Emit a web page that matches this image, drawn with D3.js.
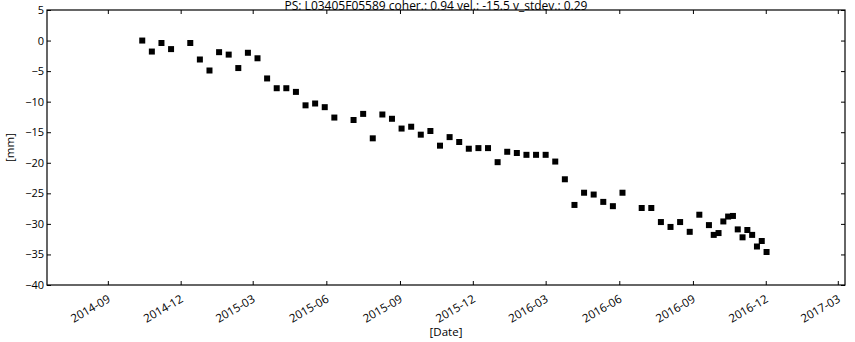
<!DOCTYPE html>
<html>
<head>
<meta charset="utf-8">
<script src="https://cdn.jsdelivr.net/npm/d3@7"></script>
<style>
  html, body { margin: 0; padding: 0; background: #fff; }
  svg { display: block; }
  text { font-family: "Open Sans", "DejaVu Sans", sans-serif; fill: #000; }
</style>
</head>
<body>
<svg id="chart" width="855" height="342"></svg>
<script>
// Acquisition dates of the persistent scatterer time series
const dates = [
  "2014-10-14","2014-10-26","2014-11-07","2014-11-19","2014-12-13","2014-12-25",
  "2015-01-06","2015-01-18","2015-01-30","2015-02-11","2015-02-23","2015-03-07",
  "2015-03-19","2015-03-31","2015-04-12","2015-04-24","2015-05-06","2015-05-18",
  "2015-05-30","2015-06-11","2015-07-05","2015-07-17","2015-07-29","2015-08-10",
  "2015-08-22","2015-09-03","2015-09-15","2015-09-27","2015-10-09","2015-10-21",
  "2015-11-02","2015-11-14","2015-11-26","2015-12-08","2015-12-20","2016-01-01",
  "2016-01-13","2016-01-25","2016-02-06","2016-02-18","2016-03-01","2016-03-13",
  "2016-03-25","2016-04-06","2016-04-18","2016-04-30","2016-05-12","2016-05-24",
  "2016-06-05","2016-06-29","2016-07-11","2016-07-23","2016-08-04","2016-08-16",
  "2016-08-28","2016-09-09","2016-09-21","2016-09-27","2016-10-03","2016-10-09",
  "2016-10-15","2016-10-21","2016-10-27","2016-11-02","2016-11-08","2016-11-14",
  "2016-11-20","2016-11-26","2016-12-02"
];

// Line-of-sight displacement [mm] at each date
const displacement = [
  0.0, -1.8, -0.4, -1.4, -0.4, -3.1,
  -4.9, -1.9, -2.3, -4.5, -2.0, -2.9,
  -6.2, -7.8, -7.8, -8.4, -10.6, -10.3,
  -10.9, -12.6, -13.0, -12.0, -16.0, -12.1,
  -12.8, -14.4, -14.1, -15.4, -14.8, -17.2,
  -15.8, -16.6, -17.7, -17.6, -17.6, -19.9,
  -18.2, -18.4, -18.7, -18.7, -18.7, -19.8,
  -22.7, -26.9, -24.9, -25.2, -26.4, -27.1,
  -24.9, -27.4, -27.4, -29.7, -30.5, -29.7,
  -31.3, -28.5, -30.2, -31.8, -31.5, -29.6,
  -28.8, -28.7, -30.9, -32.2, -31.0, -31.8,
  -33.7, -32.8, -34.6
];

// Axis ticks
const xTickDates = ["2014-09-01","2014-12-01","2015-03-01","2015-06-01","2015-09-01",
                    "2015-12-01","2016-03-01","2016-06-01","2016-09-01","2016-12-01","2017-03-01"];
const yTicks = [5, 0, -5, -10, -15, -20, -25, -30, -35, -40];
const xDomain = ["2014-06-17", "2017-03-10"];
const yDomain = [-40, 5];

const titleText = "PS: L03405F05589 coher.: 0.94 vel.: -15.5 v_stdev.: 0.29";
const xLabel = "[Date]";
const yLabel = "[mm]";

const parse = d3.utcParse("%Y-%m-%d");
const fmt = d3.utcFormat("%Y-%m");
const minus = v => String(v).replace("-", "\u2212");

const svg = d3.select("#chart");
const plot = { left: 47, right: 845, top: 10, bottom: 285 };

const x = d3.scaleUtc().domain(xDomain.map(parse)).range([plot.left, plot.right]);
const y = d3.scaleLinear().domain(yDomain).range([plot.bottom, plot.top]);

const points = dates.map((d, i) => ({ date: parse(d), value: displacement[i] }));

// Markers
const ms = 6;
svg.append("g")
  .selectAll("rect")
  .data(points)
  .join("rect")
  .attr("x", d => x(d.date) - ms / 2)
  .attr("y", d => y(d.value) - ms / 2)
  .attr("width", ms)
  .attr("height", ms)
  .attr("fill", "#000");

const tickLen = 4;
const xt = xTickDates.map(parse);

// Bottom axis (inward ticks, rotated labels)
const gx = svg.append("g").attr("transform", `translate(0,${plot.bottom})`)
  .call(d3.axisBottom(x).tickValues(xt).tickSizeInner(-tickLen).tickSizeOuter(0).tickFormat(fmt));
gx.select(".domain").remove();
gx.selectAll(".tick line").attr("stroke", "#000");
gx.selectAll(".tick text")
  .attr("font-size", 11.5)
  .attr("text-anchor", "end")
  .attr("dy", null)
  .attr("y", 0)
  .attr("transform", "translate(-2,8) rotate(-30)")
  .attr("dominant-baseline", "hanging");

// Top axis ticks
const gxt = svg.append("g").attr("transform", `translate(0,${plot.top})`)
  .call(d3.axisTop(x).tickValues(xt).tickSizeInner(-tickLen).tickSizeOuter(0).tickFormat(""));
gxt.select(".domain").remove();
gxt.selectAll(".tick line").attr("stroke", "#000");

// Left axis
const gy = svg.append("g").attr("transform", `translate(${plot.left},0)`)
  .call(d3.axisLeft(y).tickValues(yTicks).tickSizeInner(-tickLen).tickSizeOuter(0).tickPadding(3).tickFormat(minus));
gy.select(".domain").remove();
gy.selectAll(".tick line").attr("stroke", "#000");
gy.selectAll(".tick text").attr("font-size", 11).attr("x", -3);

// Right axis ticks
const gyr = svg.append("g").attr("transform", `translate(${plot.right},0)`)
  .call(d3.axisRight(y).tickValues(yTicks).tickSizeInner(-tickLen).tickSizeOuter(0).tickFormat(""));
gyr.select(".domain").remove();
gyr.selectAll(".tick line").attr("stroke", "#000");

// Frame
svg.append("rect")
  .attr("x", plot.left).attr("y", plot.top)
  .attr("width", plot.right - plot.left).attr("height", plot.bottom - plot.top)
  .attr("fill", "none").attr("stroke", "#000").attr("stroke-width", 1.2);

// Title and axis labels
svg.append("text")
  .attr("x", 436).attr("y", 9.5)
  .attr("text-anchor", "middle").attr("font-size", 12)
  .text(titleText);

svg.append("text")
  .attr("x", (plot.left + plot.right) / 2).attr("y", 336)
  .attr("text-anchor", "middle").attr("font-size", 11.5)
  .text(xLabel);

svg.append("text")
  .attr("transform", `translate(14,${(plot.top + plot.bottom) / 2}) rotate(-90)`)
  .attr("text-anchor", "middle").attr("font-size", 11.5)
  .text(yLabel);
</script>
</body>
</html>
